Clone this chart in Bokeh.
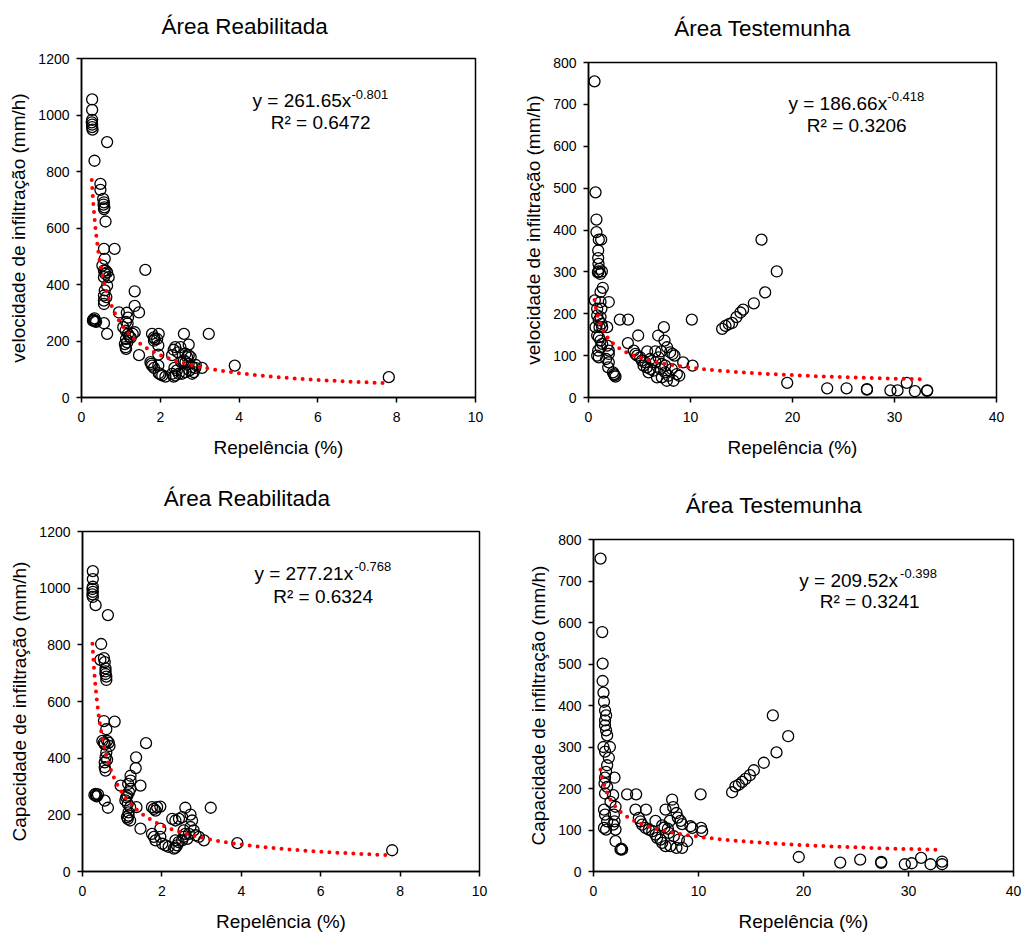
import numpy as np
from bokeh.plotting import figure
from bokeh.models import Range1d, FixedTicker, Label
from bokeh.layouts import column, row
from bokeh.embed import file_html
from bokeh.resources import INLINE

FONT = "Liberation Sans"

# ---------------- data ----------------
# Velocidade de infiltração - Área Reabilitada
vel_reab_x = [0.27, 0.27, 0.27, 0.26, 0.27, 0.27, 0.28, 0.65, 0.33, 0.48, 0.48, 0.55, 0.57, 0.56, 0.58, 0.57,
              0.61, 0.57, 0.84, 0.59, 0.53, 0.57, 0.61, 0.60, 0.65, 0.69, 0.57, 0.65, 0.59, 0.57, 0.57, 0.57,
              0.63, 1.62, 1.35, 1.35, 1.46, 0.95, 1.15, 1.18, 1.13, 1.17, 0.30, 0.32, 0.35, 0.29, 0.37, 0.33,
              0.57, 0.65, 1.06, 1.12, 1.18, 1.22, 1.30, 1.35, 1.13, 1.10, 1.12, 1.13, 1.16, 1.25, 1.79, 1.84,
              1.86, 1.96, 1.92, 1.84, 1.46, 1.95, 1.95, 1.75, 1.79, 1.84, 1.77, 1.95, 1.96, 2.05, 2.13, 2.00,
              2.34, 2.38, 2.30, 2.42, 2.36, 2.47, 2.34, 2.38, 2.51, 2.60, 2.72, 2.64, 2.68, 2.72, 2.64, 2.72,
              2.81, 2.85, 2.89, 3.06, 2.53, 2.60, 2.77, 2.74, 2.55, 2.64, 2.81, 2.30, 2.90, 2.45, 3.23, 3.89, 7.80]
vel_reab_y = [1055, 1018, 983, 974, 966, 957, 948, 904, 838, 756, 735, 703, 691, 683, 673, 667,
              623, 526, 526, 491, 467, 449, 449, 438, 443, 426, 426, 396, 379, 361, 343, 331,
              355, 452, 376, 324, 301, 301, 300, 283, 268, 262, 276, 272, 270, 272, 268, 280,
              263, 225, 249, 237, 225, 215, 225, 231, 207, 189, 178, 172, 195, 212, 225, 213,
              207, 225, 207, 201, 150, 184, 152, 125, 113, 105, 119, 113, 86, 78, 74, 82,
              74, 78, 84, 96, 105, 84, 169, 178, 178, 225, 187, 155, 143, 149, 125, 119,
              107, 90, 105, 105, 125, 131, 143, 96, 84, 90, 84, 150, 115, 160, 225, 113, 72]

# Velocidade de infiltração - Área Testemunha
vel_test_x = [0.59, 0.69, 0.78, 0.78, 1.01, 1.24, 0.95, 0.95, 0.98, 1.05, 0.98, 1.31, 1.15, 0.92, 1.40, 1.18,
              0.62, 1.18, 1.99, 0.85, 1.27, 0.85, 1.18, 1.01, 1.27, 1.34, 1.08, 0.69, 1.83, 0.85, 1.01, 1.18,
              1.34, 1.18, 0.95, 0.85, 1.01, 1.83, 1.99, 1.99, 1.73, 1.99, 1.93, 2.40, 2.55, 2.65, 2.50, 3.07,
              3.89, 4.87, 3.86, 4.44, 4.60, 4.77, 5.07, 5.23, 5.56, 5.40, 5.72, 6.05, 6.37, 5.89, 5.75, 6.56,
              7.13, 6.86, 6.05, 6.56, 7.19, 7.03, 7.52, 7.84, 7.68, 8.33, 7.52, 8.17, 8.66, 8.90, 7.19, 6.72,
              6.83, 7.39, 7.45, 7.70, 8.00, 8.24, 8.43, 9.28, 10.20, 10.13, 13.10, 13.43, 13.76, 14.08, 14.51, 14.90,
              15.16, 16.21, 16.96, 17.32, 18.46, 19.48, 23.40, 25.30, 27.30, 27.30, 29.60, 30.30, 31.20, 32.00, 33.20, 33.20]
vel_test_y = [755, 490, 425, 395, 377, 377, 351, 333, 319, 307, 301, 301, 295, 299, 262, 252,
              232, 228, 228, 212, 212, 196, 192, 184, 176, 168, 168, 168, 168, 148, 144, 136,
              128, 120, 112, 100, 96, 124, 112, 104, 92, 84, 72, 60, 53, 50, 56, 186,
              186, 148, 130, 112, 104, 100, 96, 88, 84, 76, 72, 68, 64, 60, 110, 110,
              110, 96, 92, 84, 80, 68, 60, 52, 40, 40, 76, 68, 56, 52, 48, 48,
              148, 168, 136, 120, 108, 104, 100, 84, 76, 186, 164, 171, 175, 178, 192, 203,
              210, 225, 377, 251, 301, 35, 22, 22, 20, 19, 17, 17, 35, 15, 17, 16]

# Capacidade de infiltração - Área Reabilitada
cap_reab_x = [0.26, 0.26, 0.26, 0.25, 0.26, 0.25, 0.26, 0.33, 0.64, 0.47, 0.45, 0.54, 0.56, 0.58, 0.58, 0.60,
              0.60, 0.58, 0.54, 0.81, 0.60, 0.50, 0.54, 0.56, 0.62, 0.66, 0.68, 0.60, 0.58, 0.56, 0.56, 0.58,
              0.62, 1.60, 1.35, 1.34, 1.46, 0.96, 1.21, 1.21, 1.15, 1.21, 1.17, 1.13, 1.08, 0.30, 0.34, 0.39,
              0.33, 0.36, 0.56, 0.64, 1.10, 1.14, 1.20, 1.16, 1.14, 1.20, 1.36, 1.16, 1.12, 1.75, 1.80, 1.88,
              1.96, 1.84, 1.46, 1.96, 1.75, 1.80, 1.84, 1.96, 2.01, 2.09, 2.17, 2.30, 2.34, 2.38, 2.42, 2.34,
              2.51, 2.55, 2.59, 2.26, 2.34, 2.43, 2.51, 2.59, 2.72, 2.76, 2.72, 2.80, 2.85, 2.93, 3.06, 2.68,
              2.64, 2.55, 3.23, 3.90, 7.80]
cap_reab_y = [1060, 1032, 1005, 997, 987, 978, 969, 940, 905, 803, 747, 753, 739, 717, 706, 688,
              676, 697, 531, 529, 502, 461, 455, 449, 461, 455, 443, 420, 403, 385, 368, 356,
              395, 453, 403, 365, 303, 303, 338, 321, 309, 292, 280, 268, 251, 270, 268, 272,
              274, 265, 250, 225, 262, 239, 227, 209, 186, 180, 227, 197, 192, 227, 221, 227,
              229, 215, 151, 151, 133, 122, 110, 122, 98, 92, 87, 81, 84, 92, 104, 110,
              110, 122, 133, 186, 180, 186, 192, 225, 201, 180, 157, 145, 128, 122, 110, 133,
              115, 145, 225, 100, 75]

# Capacidade de infiltração - Área Testemunha
cap_test_x = [0.67, 0.83, 0.87, 0.87, 0.95, 1.00, 1.10, 1.20, 1.10, 1.10, 1.20, 1.30, 0.95, 1.56, 1.10, 1.46,
              1.30, 1.20, 1.10, 2.00, 1.05, 1.30, 1.10, 1.87, 1.62, 2.10, 1.00, 1.10, 1.30, 1.00, 1.20, 1.94,
              2.00, 2.10, 1.87, 2.10, 2.57, 2.73, 2.63, 3.20, 4.06, 4.00, 5.00, 4.32, 4.48, 4.63, 4.95, 5.27,
              5.60, 5.90, 6.06, 6.38, 6.54, 6.86, 5.90, 6.54, 6.76, 7.08, 7.27, 6.86, 7.49, 7.59, 7.90, 8.03,
              8.29, 8.44, 9.24, 9.40, 10.25, 10.35, 8.92, 8.44, 7.90, 7.33, 8.13, 7.65, 7.17, 10.20, 13.20, 13.52,
              13.84, 14.16, 14.48, 14.89, 15.27, 16.22, 17.08, 17.43, 18.54, 19.55, 23.50, 25.40, 27.40, 27.40, 29.65, 30.30,
              31.20, 32.10, 33.20, 33.20]
cap_test_y = [754, 577, 501, 459, 431, 409, 388, 376, 364, 352, 340, 328, 300, 300, 289, 274,
              256, 240, 226, 226, 212, 204, 188, 184, 168, 156, 149, 137, 121, 105, 101, 137,
              121, 101, 113, 73, 53, 53, 55, 186, 186, 149, 149, 129, 121, 113, 105, 101,
              97, 89, 81, 77, 69, 61, 122, 111, 106, 103, 122, 149, 173, 155, 141, 130,
              122, 114, 109, 105, 105, 97, 73, 57, 57, 61, 77, 85, 93, 186, 191, 205,
              209, 216, 223, 232, 244, 262, 376, 287, 326, 35, 21.5, 28.6, 23, 21, 17.5, 19.9,
              33, 17.5, 24, 17.5]

# fitted power-law trendlines (coefficient, exponent) and R²
fit_vel_reab = (261.65, -0.801, "0.6472")
fit_vel_test = (186.66, -0.418, "0.3206")
fit_cap_reab = (277.21, -0.768, "0.6324")
fit_cap_test = (209.52, -0.398, "0.3241")

titles = ["Área Reabilitada", "Área Testemunha", "Área Reabilitada", "Área Testemunha"]
ylabels = ["velocidade de infiltração (mm/h)", "velocidade de infiltração (mm/h)",
           "Capacidade de infiltração (mm/h)", "Capacidade de infiltração (mm/h)"]
xlabel = "Repelência (%)"
ticks_x_reab = [0, 2, 4, 6, 8, 10]
ticks_x_test = [0, 10, 20, 30, 40]
ticks_y_reab = [0, 200, 400, 600, 800, 1000, 1200]
ticks_y_test = [0, 100, 200, 300, 400, 500, 600, 700, 800]


def make_panel(xs, ys, fit, title, ylabel, xticks, yticks, width, height,
               bl, br, bt, bb, title_h, title_xy, eq_main_pos, eq_sup_pos, r2_pos):
    a, b, r2 = fit

    # --- title strip (same horizontal frame as the plot below it) ---
    t = figure(width=width, height=title_h, output_backend="svg", toolbar_location=None,
               x_range=Range1d(xticks[0], xticks[-1]), y_range=Range1d(0, title_h),
               x_axis_location=None, y_axis_location=None,
               min_border_left=bl, min_border_right=br, min_border_top=0, min_border_bottom=0)
    t.title = None
    t.outline_line_color = None
    t.xgrid.visible = False
    t.ygrid.visible = False
    t.background_fill_color = "white"
    t.border_fill_color = "white"
    t.add_layout(Label(x=title_xy[0], y=title_xy[1], text=title,
                       text_font=FONT, text_font_size="22.5px", text_color="black",
                       text_align="center", text_baseline="alphabetic"))

    # --- main plot ---
    p = figure(width=width, height=height - title_h, output_backend="svg", toolbar_location=None,
               x_range=Range1d(xticks[0], xticks[-1]), y_range=Range1d(yticks[0], yticks[-1]),
               min_border_left=bl, min_border_right=br, min_border_top=bt - title_h, min_border_bottom=bb)
    p.title = None
    p.background_fill_color = "white"
    p.border_fill_color = "white"
    p.outline_line_color = "black"
    p.outline_line_width = 1.5
    p.xgrid.visible = False
    p.ygrid.visible = False

    p.xaxis.ticker = FixedTicker(ticks=xticks)
    p.yaxis.ticker = FixedTicker(ticks=yticks)
    p.xaxis.axis_label = xlabel
    p.yaxis.axis_label = ylabel
    for ax in (p.xaxis[0], p.yaxis[0]):
        ax.axis_line_color = "black"
        ax.axis_line_width = 1.5
        ax.major_tick_line_color = "black"
        ax.major_tick_line_width = 1.5
        ax.major_tick_out = 5
        ax.major_tick_in = 0
        ax.minor_tick_line_color = None
        ax.major_label_text_font = FONT
        ax.major_label_text_font_size = "14px"
        ax.major_label_text_color = "black"
        ax.axis_label_text_font = FONT
        ax.axis_label_text_font_size = "19px"
        ax.axis_label_text_font_style = "normal"
        ax.axis_label_text_color = "black"
    p.xaxis.major_label_standoff = 9
    p.yaxis.major_label_standoff = 7
    p.xaxis.axis_label_standoff = 12
    p.yaxis.axis_label_standoff = 6

    p.scatter(xs, ys, marker="circle", size=11, fill_color=None,
              line_color="black", line_width=1.3)

    xt = np.linspace(min(xs), max(xs), 400)
    yt = a * xt ** b
    p.line(xt, yt, line_color="red", line_width=4, line_dash="0 8", line_cap="round")

    p.add_layout(Label(x=eq_main_pos[0], y=eq_main_pos[1], text=f"y = {a:.2f}x",
                       text_font=FONT, text_font_size="19px", text_color="black",
                       text_align="left", text_baseline="alphabetic"))
    p.add_layout(Label(x=eq_sup_pos[0], y=eq_sup_pos[1], text=f"{b:.3f}",
                       text_font=FONT, text_font_size="13px", text_color="black",
                       text_align="left", text_baseline="alphabetic"))
    p.add_layout(Label(x=r2_pos[0], y=r2_pos[1], text=f"R² = {r2}",
                       text_font=FONT, text_font_size="19px", text_color="black",
                       text_align="center", text_baseline="alphabetic"))
    return column(t, p)


q1 = make_panel(vel_reab_x, vel_reab_y, fit_vel_reab, titles[0], ylabels[0], ticks_x_reab, ticks_y_reab,
                510, 470, 81, 35, 58, 73, 45, (4.14, 19), (4.34, 1051), (6.85, 1073), (6.07, 974))
q2 = make_panel(vel_test_x, vel_test_y, fit_vel_test, titles[1], ylabels[1], ticks_x_test, ticks_y_test,
                516, 470, 78, 30, 62, 73, 50, (17.06, 22), (19.6, 702), (29.3, 719), (26.3, 650))
q3 = make_panel(cap_reab_x, cap_reab_y, fit_cap_reab, titles[2], ylabels[2], ticks_x_reab, ticks_y_reab,
                510, 464, 82, 31, 61, 61, 48, (4.14, 20), (4.33, 1053), (6.85, 1077), (6.06, 972))
q4 = make_panel(cap_test_x, cap_test_y, fit_cap_test, titles[3], ylabels[3], ticks_x_test, ticks_y_test,
                516, 464, 83, 13, 69, 60, 56, (17.19, 21), (19.6, 702), (29.2, 717), (26.3, 650))

layout = column(row(q1, q2), row(q3, q4))
open("out.html", "w").write(file_html(layout, INLINE))
